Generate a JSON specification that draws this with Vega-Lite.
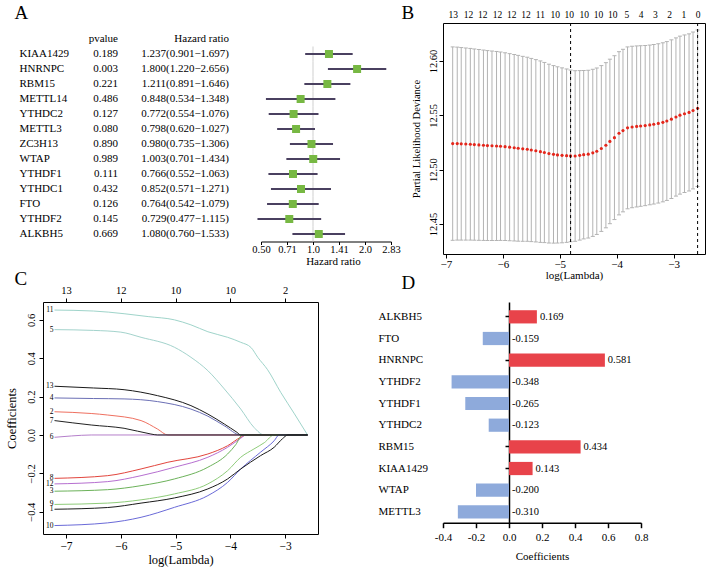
{
  "$schema": "https://vega.github.io/schema/vega-lite/v6.json",
  "background": "white",
  "padding": {"left": 4, "top": 2, "right": 2, "bottom": 2},
  "datasets": {
    "forest": [
      {"gene": "KIAA1429", "p": "0.189", "hrtxt": "1.237(0.901\u22121.697)", "hr": 1.237, "lo": 0.901, "hi": 1.697},
      {"gene": "HNRNPC", "p": "0.003", "hrtxt": "1.800(1.220\u22122.656)", "hr": 1.8, "lo": 1.22, "hi": 2.656},
      {"gene": "RBM15", "p": "0.221", "hrtxt": "1.211(0.891\u22121.646)", "hr": 1.211, "lo": 0.891, "hi": 1.646},
      {"gene": "METTL14", "p": "0.486", "hrtxt": "0.848(0.534\u22121.348)", "hr": 0.848, "lo": 0.534, "hi": 1.348},
      {"gene": "YTHDC2", "p": "0.127", "hrtxt": "0.772(0.554\u22121.076)", "hr": 0.772, "lo": 0.554, "hi": 1.076},
      {"gene": "METTL3", "p": "0.080", "hrtxt": "0.798(0.620\u22121.027)", "hr": 0.798, "lo": 0.62, "hi": 1.027},
      {"gene": "ZC3H13", "p": "0.890", "hrtxt": "0.980(0.735\u22121.306)", "hr": 0.98, "lo": 0.735, "hi": 1.306},
      {"gene": "WTAP", "p": "0.989", "hrtxt": "1.003(0.701\u22121.434)", "hr": 1.003, "lo": 0.701, "hi": 1.434},
      {"gene": "YTHDF1", "p": "0.111", "hrtxt": "0.766(0.552\u22121.063)", "hr": 0.766, "lo": 0.552, "hi": 1.063},
      {"gene": "YTHDC1", "p": "0.432", "hrtxt": "0.852(0.571\u22121.271)", "hr": 0.852, "lo": 0.571, "hi": 1.271},
      {"gene": "FTO", "p": "0.126", "hrtxt": "0.764(0.542\u22121.079)", "hr": 0.764, "lo": 0.542, "hi": 1.079},
      {"gene": "YTHDF2", "p": "0.145", "hrtxt": "0.729(0.477\u22121.115)", "hr": 0.729, "lo": 0.477, "hi": 1.115},
      {"gene": "ALKBH5", "p": "0.669", "hrtxt": "1.080(0.760\u22121.533)", "hr": 1.08, "lo": 0.76, "hi": 1.533}
    ],
    "cv": [
      {"lam": -6.88, "m": 12.524, "lo": 12.435, "hi": 12.613},
      {"lam": -6.8, "m": 12.524, "lo": 12.4352, "hi": 12.6128},
      {"lam": -6.73, "m": 12.5238, "lo": 12.4352, "hi": 12.6124},
      {"lam": -6.65, "m": 12.5236, "lo": 12.4352, "hi": 12.612},
      {"lam": -6.57, "m": 12.5234, "lo": 12.4352, "hi": 12.6116},
      {"lam": -6.5, "m": 12.5231, "lo": 12.4351, "hi": 12.6111},
      {"lam": -6.42, "m": 12.5228, "lo": 12.435, "hi": 12.6106},
      {"lam": -6.34, "m": 12.5225, "lo": 12.4349, "hi": 12.6101},
      {"lam": -6.27, "m": 12.5222, "lo": 12.4348, "hi": 12.6096},
      {"lam": -6.19, "m": 12.522, "lo": 12.4348, "hi": 12.6092},
      {"lam": -6.11, "m": 12.5218, "lo": 12.4348, "hi": 12.6088},
      {"lam": -6.04, "m": 12.5216, "lo": 12.4349, "hi": 12.6083},
      {"lam": -5.96, "m": 12.5212, "lo": 12.4348, "hi": 12.6076},
      {"lam": -5.88, "m": 12.5207, "lo": 12.4346, "hi": 12.6068},
      {"lam": -5.8, "m": 12.5202, "lo": 12.4344, "hi": 12.606},
      {"lam": -5.73, "m": 12.5197, "lo": 12.4342, "hi": 12.6052},
      {"lam": -5.65, "m": 12.5192, "lo": 12.4341, "hi": 12.6043},
      {"lam": -5.57, "m": 12.5188, "lo": 12.4341, "hi": 12.6035},
      {"lam": -5.5, "m": 12.5181, "lo": 12.4338, "hi": 12.6024},
      {"lam": -5.42, "m": 12.5174, "lo": 12.4335, "hi": 12.6013},
      {"lam": -5.34, "m": 12.5166, "lo": 12.4331, "hi": 12.6001},
      {"lam": -5.27, "m": 12.5158, "lo": 12.4329, "hi": 12.5987},
      {"lam": -5.19, "m": 12.5148, "lo": 12.4325, "hi": 12.5971},
      {"lam": -5.11, "m": 12.5141, "lo": 12.4324, "hi": 12.5958},
      {"lam": -5.04, "m": 12.5136, "lo": 12.4325, "hi": 12.5947},
      {"lam": -4.96, "m": 12.5132, "lo": 12.4327, "hi": 12.5937},
      {"lam": -4.88, "m": 12.5129, "lo": 12.4331, "hi": 12.5927},
      {"lam": -4.81, "m": 12.5127, "lo": 12.4337, "hi": 12.5917},
      {"lam": -4.73, "m": 12.5126, "lo": 12.4341, "hi": 12.5911},
      {"lam": -4.65, "m": 12.5132, "lo": 12.4352, "hi": 12.5912},
      {"lam": -4.58, "m": 12.5138, "lo": 12.4363, "hi": 12.5913},
      {"lam": -4.5, "m": 12.5143, "lo": 12.4371, "hi": 12.5915},
      {"lam": -4.42, "m": 12.5155, "lo": 12.4386, "hi": 12.5924},
      {"lam": -4.35, "m": 12.517, "lo": 12.4404, "hi": 12.5936},
      {"lam": -4.27, "m": 12.5195, "lo": 12.4432, "hi": 12.5958},
      {"lam": -4.19, "m": 12.5225, "lo": 12.4465, "hi": 12.5985},
      {"lam": -4.12, "m": 12.526, "lo": 12.4503, "hi": 12.6017},
      {"lam": -4.04, "m": 12.5295, "lo": 12.4541, "hi": 12.6049},
      {"lam": -3.96, "m": 12.5335, "lo": 12.4584, "hi": 12.6086},
      {"lam": -3.89, "m": 12.536, "lo": 12.4612, "hi": 12.6108},
      {"lam": -3.81, "m": 12.5385, "lo": 12.464, "hi": 12.613},
      {"lam": -3.73, "m": 12.5393, "lo": 12.465, "hi": 12.6136},
      {"lam": -3.65, "m": 12.5398, "lo": 12.4657, "hi": 12.6139},
      {"lam": -3.58, "m": 12.5402, "lo": 12.4663, "hi": 12.6141},
      {"lam": -3.5, "m": 12.5406, "lo": 12.4669, "hi": 12.6143},
      {"lam": -3.42, "m": 12.5412, "lo": 12.4677, "hi": 12.6147},
      {"lam": -3.35, "m": 12.5418, "lo": 12.4684, "hi": 12.6152},
      {"lam": -3.27, "m": 12.5426, "lo": 12.4693, "hi": 12.6159},
      {"lam": -3.19, "m": 12.5436, "lo": 12.4704, "hi": 12.6168},
      {"lam": -3.12, "m": 12.5448, "lo": 12.4717, "hi": 12.6179},
      {"lam": -3.04, "m": 12.5465, "lo": 12.4735, "hi": 12.6195},
      {"lam": -2.96, "m": 12.5485, "lo": 12.4757, "hi": 12.6213},
      {"lam": -2.89, "m": 12.5502, "lo": 12.4775, "hi": 12.6229},
      {"lam": -2.81, "m": 12.5515, "lo": 12.479, "hi": 12.624},
      {"lam": -2.73, "m": 12.5527, "lo": 12.4804, "hi": 12.625},
      {"lam": -2.66, "m": 12.5545, "lo": 12.4823, "hi": 12.6267},
      {"lam": -2.58, "m": 12.5565, "lo": 12.4845, "hi": 12.6285}
    ],
    "cvsel": [{"lam": -4.81}, {"lam": -2.58}],
    "paths": [
      {"v": "11", "lam": -7.21, "coef": 0.651}, {"v": "11", "lam": -6.5, "coef": 0.646}, {"v": "11", "lam": -5.94, "coef": 0.632}, {"v": "11", "lam": -5.5, "coef": 0.617}, {"v": "11", "lam": -5.02, "coef": 0.6}, {"v": "11", "lam": -4.72, "coef": 0.574}, {"v": "11", "lam": -4.41, "coef": 0.538}, {"v": "11", "lam": -4.05, "coef": 0.509}, {"v": "11", "lam": -3.81, "coef": 0.483}, {"v": "11", "lam": -3.62, "coef": 0.455}, {"v": "11", "lam": -3.5, "coef": 0.405}, {"v": "11", "lam": -3.32, "coef": 0.34}, {"v": "11", "lam": -3.08, "coef": 0.222}, {"v": "11", "lam": -2.83, "coef": 0.11}, {"v": "11", "lam": -2.59, "coef": 0},
      {"v": "5", "lam": -7.21, "coef": 0.549}, {"v": "5", "lam": -6.5, "coef": 0.545}, {"v": "5", "lam": -6.0, "coef": 0.536}, {"v": "5", "lam": -5.63, "coef": 0.509}, {"v": "5", "lam": -5.02, "coef": 0.457}, {"v": "5", "lam": -4.72, "coef": 0.405}, {"v": "5", "lam": -4.41, "coef": 0.335}, {"v": "5", "lam": -4.11, "coef": 0.24}, {"v": "5", "lam": -3.81, "coef": 0.135}, {"v": "5", "lam": -3.57, "coef": 0.04}, {"v": "5", "lam": -3.38, "coef": 0}, {"v": "5", "lam": -2.59, "coef": 0},
      {"v": "2", "lam": -7.21, "coef": 0.121}, {"v": "2", "lam": -6.54, "coef": 0.112}, {"v": "2", "lam": -6.24, "coef": 0.104}, {"v": "2", "lam": -5.63, "coef": 0.075}, {"v": "2", "lam": -5.33, "coef": 0.031}, {"v": "2", "lam": -5.14, "coef": 0}, {"v": "2", "lam": -2.59, "coef": 0},
      {"v": "6", "lam": -7.21, "coef": -0.012}, {"v": "6", "lam": -6.9, "coef": -0.005}, {"v": "6", "lam": -6.54, "coef": 0}, {"v": "6", "lam": -2.59, "coef": 0},
      {"v": "4", "lam": -7.21, "coef": 0.193}, {"v": "4", "lam": -6.5, "coef": 0.19}, {"v": "4", "lam": -5.94, "coef": 0.188}, {"v": "4", "lam": -5.33, "coef": 0.174}, {"v": "4", "lam": -4.72, "coef": 0.135}, {"v": "4", "lam": -4.41, "coef": 0.098}, {"v": "4", "lam": -4.11, "coef": 0.048}, {"v": "4", "lam": -3.81, "coef": 0}, {"v": "4", "lam": -2.59, "coef": 0},
      {"v": "8", "lam": -7.21, "coef": -0.226}, {"v": "8", "lam": -6.24, "coef": -0.212}, {"v": "8", "lam": -5.63, "coef": -0.177}, {"v": "8", "lam": -5.14, "coef": -0.142}, {"v": "8", "lam": -4.41, "coef": -0.099}, {"v": "8", "lam": -4.05, "coef": -0.056}, {"v": "8", "lam": -3.81, "coef": -0.012}, {"v": "8", "lam": -3.7, "coef": 0}, {"v": "8", "lam": -2.59, "coef": 0},
      {"v": "12", "lam": -7.21, "coef": -0.255}, {"v": "12", "lam": -6.24, "coef": -0.243}, {"v": "12", "lam": -5.63, "coef": -0.212}, {"v": "12", "lam": -5.02, "coef": -0.168}, {"v": "12", "lam": -4.41, "coef": -0.116}, {"v": "12", "lam": -4.05, "coef": -0.064}, {"v": "12", "lam": -3.81, "coef": -0.017}, {"v": "12", "lam": -3.72, "coef": 0}, {"v": "12", "lam": -2.59, "coef": 0},
      {"v": "3", "lam": -7.21, "coef": -0.293}, {"v": "3", "lam": -6.24, "coef": -0.285}, {"v": "3", "lam": -5.63, "coef": -0.264}, {"v": "3", "lam": -5.02, "coef": -0.229}, {"v": "3", "lam": -4.41, "coef": -0.168}, {"v": "3", "lam": -4.05, "coef": -0.099}, {"v": "3", "lam": -3.9, "coef": -0.05}, {"v": "3", "lam": -3.78, "coef": 0}, {"v": "3", "lam": -2.59, "coef": 0},
      {"v": "9", "lam": -7.21, "coef": -0.362}, {"v": "9", "lam": -6.24, "coef": -0.355}, {"v": "9", "lam": -5.63, "coef": -0.338}, {"v": "9", "lam": -5.02, "coef": -0.307}, {"v": "9", "lam": -4.41, "coef": -0.255}, {"v": "9", "lam": -4.05, "coef": -0.186}, {"v": "9", "lam": -3.81, "coef": -0.116}, {"v": "9", "lam": -3.57, "coef": -0.073}, {"v": "9", "lam": -3.38, "coef": -0.04}, {"v": "9", "lam": -3.2, "coef": 0}, {"v": "9", "lam": -2.59, "coef": 0},
      {"v": "10", "lam": -7.21, "coef": -0.472}, {"v": "10", "lam": -6.24, "coef": -0.458}, {"v": "10", "lam": -5.63, "coef": -0.429}, {"v": "10", "lam": -5.02, "coef": -0.377}, {"v": "10", "lam": -4.41, "coef": -0.316}, {"v": "10", "lam": -4.05, "coef": -0.247}, {"v": "10", "lam": -3.81, "coef": -0.177}, {"v": "10", "lam": -3.45, "coef": -0.09}, {"v": "10", "lam": -3.2, "coef": -0.03}, {"v": "10", "lam": -3.11, "coef": 0}, {"v": "10", "lam": -2.59, "coef": 0},
      {"v": "1", "lam": -7.21, "coef": -0.387}, {"v": "1", "lam": -6.24, "coef": -0.378}, {"v": "1", "lam": -5.63, "coef": -0.355}, {"v": "1", "lam": -5.02, "coef": -0.328}, {"v": "1", "lam": -4.41, "coef": -0.281}, {"v": "1", "lam": -4.05, "coef": -0.229}, {"v": "1", "lam": -3.81, "coef": -0.177}, {"v": "1", "lam": -3.45, "coef": -0.108}, {"v": "1", "lam": -3.2, "coef": -0.064}, {"v": "1", "lam": -3.05, "coef": -0.02}, {"v": "1", "lam": -2.95, "coef": 0}, {"v": "1", "lam": -2.59, "coef": 0},
      {"v": "13", "lam": -7.21, "coef": 0.254}, {"v": "13", "lam": -6.5, "coef": 0.245}, {"v": "13", "lam": -5.94, "coef": 0.236}, {"v": "13", "lam": -5.33, "coef": 0.205}, {"v": "13", "lam": -4.72, "coef": 0.153}, {"v": "13", "lam": -4.41, "coef": 0.109}, {"v": "13", "lam": -4.11, "coef": 0.057}, {"v": "13", "lam": -3.88, "coef": 0.014}, {"v": "13", "lam": -3.81, "coef": 0}, {"v": "13", "lam": -2.59, "coef": 0},
      {"v": "7", "lam": -7.21, "coef": 0.075}, {"v": "7", "lam": -6.54, "coef": 0.052}, {"v": "7", "lam": -5.94, "coef": 0.035}, {"v": "7", "lam": -5.45, "coef": 0.005}, {"v": "7", "lam": -5.33, "coef": 0}, {"v": "7", "lam": -2.59, "coef": 0}
    ],
    "coefs": [
      {"gene": "ALKBH5", "coef": 0.169, "lab": "0.169"},
      {"gene": "FTO", "coef": -0.159, "lab": "-0.159"},
      {"gene": "HNRNPC", "coef": 0.581, "lab": "0.581"},
      {"gene": "YTHDF2", "coef": -0.348, "lab": "-0.348"},
      {"gene": "YTHDF1", "coef": -0.265, "lab": "-0.265"},
      {"gene": "YTHDC2", "coef": -0.123, "lab": "-0.123"},
      {"gene": "RBM15", "coef": 0.434, "lab": "0.434"},
      {"gene": "KIAA1429", "coef": 0.143, "lab": "0.143"},
      {"gene": "WTAP", "coef": -0.2, "lab": "-0.200"},
      {"gene": "METTL3", "coef": -0.31, "lab": "-0.310"}
    ]
  },
  "columns": 2,
  "spacing": {"row": 48, "column": 52},
  "align": "each",
  "bounds": "flush",
  "concat": [
    {
      "width": 348, "height": 218.5,
      "resolve": {"scale": {"x": "independent"}},
      "layer": [
        {
          "layer": [
            {
              "data": {"name": "forest"},
              "mark": {"type": "text", "align": "right", "baseline": "middle", "fontSize": 11, "color": "#000"},
              "encoding": {
                "y": {"field": "gene", "type": "nominal", "sort": null,
                  "scale": {"type": "band", "domain": [" ", "KIAA1429", "HNRNPC", "RBM15", "METTL14", "YTHDC2", "METTL3", "ZC3H13", "WTAP", "YTHDF1", "YTHDC1", "FTO", "YTHDF2", "ALKBH5"], "paddingInner": 0, "paddingOuter": 0.2833, "align": 1},
                  "axis": {"orient": "left", "title": "A", "titleAngle": 0, "titleX": -29, "titleY": -5, "titleAlign": "left", "titleBaseline": "alphabetic", "titleFontSize": 19, "ticks": false, "tickSize": 0, "domain": false, "labelAlign": "left", "labelBaseline": "middle", "labelPadding": 24, "labelFontSize": 11}},
                "x": {"datum": "pvalue", "type": "nominal", "scale": {"type": "point", "domain": ["pvalue", "hr"], "range": [75, 186], "padding": 0}, "axis": null},
                "text": {"field": "p"}
              }
            },
            {
              "data": {"name": "forest"},
              "mark": {"type": "text", "align": "right", "baseline": "middle", "fontSize": 11, "color": "#000"},
              "encoding": {
                "y": {"field": "gene", "type": "nominal", "sort": null},
                "x": {"datum": "hr", "type": "nominal", "axis": null},
                "text": {"field": "hrtxt"}
              }
            },
            {
              "data": {"values": [{"col": "pvalue", "label": "pvalue"}, {"col": "hr", "label": "Hazard ratio"}]},
              "mark": {"type": "text", "align": "right", "baseline": "middle", "fontSize": 11, "color": "#000"},
              "encoding": {
                "y": {"datum": " ", "type": "nominal"},
                "x": {"field": "col", "type": "nominal", "axis": null},
                "text": {"field": "label"}
              }
            }
          ]
        },
        {
          "data": {"name": "forest"},
          "layer": [
            {
              "mark": {"type": "tick", "orient": "vertical", "size": 15, "thickness": 1, "color": "#cfcfcf", "opacity": 1},
              "encoding": {
                "y": {"field": "gene", "type": "nominal", "sort": null},
                "x": {"datum": 1, "type": "quantitative",
                  "scale": {"type": "log", "base": 2, "domain": [0.5, 2.8284], "range": [218, 348], "nice": false},
                  "axis": {"values": [0.5, 0.7071, 1, 1.4142, 2, 2.8284],
                    "labelExpr": "datum.value < 0.6 ? '0.50' : datum.value < 0.8 ? '0.71' : datum.value < 1.2 ? '1.0' : datum.value < 1.7 ? '1.41' : datum.value < 2.4 ? '2.0' : '2.83'",
                    "title": "Hazard ratio", "titleX": 290, "tickSize": 3, "labelPadding": 0, "titlePadding": 0, "labelFontSize": 10.5, "titleFontSize": 11, "domain": true, "labelFlush": false, "labelOverlap": false}}
              }
            },
            {
              "mark": {"type": "rule", "strokeWidth": 2, "color": "#4a4060"},
              "encoding": {"y": {"field": "gene", "type": "nominal", "sort": null}, "x": {"field": "lo", "type": "quantitative"}, "x2": {"field": "hi"}}
            },
            {
              "mark": {"type": "point", "shape": "square", "filled": true, "size": 64, "color": "#77b843", "opacity": 1},
              "encoding": {"y": {"field": "gene", "type": "nominal", "sort": null}, "x": {"field": "hr", "type": "quantitative"}}
            }
          ]
        }
      ]
    },
    {
      "width": 262, "height": 231,
      "view": {"stroke": "#000", "strokeWidth": 1},
      "data": {"name": "cv"},
      "resolve": {"axis": {"x": "independent"}},
      "layer": [
        {
          "mark": {"type": "rule", "color": "#b3b3b3", "strokeWidth": 1},
          "encoding": {
            "x": {"field": "lam", "type": "quantitative", "scale": {"domain": [-7.05, -2.45], "nice": false, "zero": false},
              "axis": {"orient": "bottom", "values": [-7, -6, -5, -4, -3], "title": "log(Lambda)", "tickSize": 4, "labelPadding": 0, "titlePadding": 0, "domain": false, "labelFontSize": 11, "titleFontSize": 11, "labelFlush": false}},
            "y": {"field": "lo", "type": "quantitative", "title": "Partial Likelihood Deviance", "scale": {"domain": [12.4224, 12.635], "nice": false, "zero": false},
              "axis": {"values": [12.45, 12.5, 12.55, 12.6], "format": ".2f", "labelAngle": 270, "labelAlign": "center", "labelBaseline": "bottom", "tickSize": 4, "labelPadding": 1, "titlePadding": 7, "domain": false, "labelFontSize": 10.5, "titleFontSize": 10.5}},
            "y2": {"field": "hi"}
          }
        },
        {
          "mark": {"type": "tick", "orient": "horizontal", "size": 4, "thickness": 1, "color": "#b3b3b3", "opacity": 1},
          "encoding": {"x": {"field": "lam", "type": "quantitative", "axis": null}, "y": {"field": "lo", "type": "quantitative", "title": "Partial Likelihood Deviance"}}
        },
        {
          "mark": {"type": "tick", "orient": "horizontal", "size": 4, "thickness": 1, "color": "#b3b3b3", "opacity": 1},
          "encoding": {"x": {"field": "lam", "type": "quantitative", "axis": null}, "y": {"field": "hi", "type": "quantitative", "title": "Partial Likelihood Deviance"}}
        },
        {
          "mark": {"type": "circle", "size": 10, "color": "#e3261b", "opacity": 1},
          "encoding": {
            "x": {"field": "lam", "type": "quantitative",
              "axis": {"orient": "top", "values": [-6.88, -6.61, -6.36, -6.1, -5.85, -5.6, -5.35, -5.09, -4.84, -4.58, -4.33, -4.08, -3.83, -3.58, -3.33, -3.08, -2.83, -2.58],
                "labelExpr": "['13','12','12','12','12','12','11','10','10','10','10','10','5','4','3','2','1','0'][indexof([-6.88, -6.61, -6.36, -6.1, -5.85, -5.6, -5.35, -5.09, -4.84, -4.58, -4.33, -4.08, -3.83, -3.58, -3.33, -3.08, -2.83, -2.58], datum.value)]",
                "ticks": false, "tickSize": 0, "domain": false, "labelPadding": 4, "labelFontSize": 9.5, "labelFlush": false, "labelOverlap": false,
                "title": "B", "titleAngle": 0, "titleX": -42, "titleY": -5, "titleAlign": "left", "titleBaseline": "alphabetic", "titleFontSize": 19}},
            "y": {"field": "m", "type": "quantitative", "title": "Partial Likelihood Deviance"}
          }
        },
        {
          "data": {"name": "cvsel"},
          "mark": {"type": "rule", "strokeDash": [3, 3], "color": "#000", "strokeWidth": 1},
          "encoding": {"x": {"field": "lam", "type": "quantitative", "axis": null}}
        }
      ]
    },
    {
      "width": 275, "height": 232,
      "view": {"stroke": "#000", "strokeWidth": 1},
      "data": {"name": "paths"},
      "resolve": {"axis": {"x": "independent"}},
      "layer": [
        {
          "mark": {"type": "line", "strokeWidth": 1, "interpolate": "monotone"},
          "encoding": {
            "x": {"field": "lam", "type": "quantitative", "scale": {"domain": [-7.42, -2.4], "nice": false, "zero": false},
              "axis": {"orient": "bottom", "values": [-7, -6, -5, -4, -3], "title": "log(Lambda)", "tickSize": 4, "labelPadding": 2, "titlePadding": 2, "domain": false, "labelFontSize": 11.5, "titleFontSize": 12.5, "labelFlush": false}},
            "y": {"field": "coef", "type": "quantitative", "title": "Coefficients", "scale": {"domain": [-0.516, 0.693], "nice": false, "zero": false},
              "axis": {"values": [-0.4, -0.2, 0, 0.2, 0.4, 0.6], "format": ".1f", "labelAngle": 270, "labelAlign": "center", "labelBaseline": "bottom", "tickSize": 4, "labelPadding": 3, "titlePadding": 8, "domain": false, "labelFontSize": 10.5, "titleFontSize": 12.5}},
            "color": {"field": "v", "type": "nominal", "legend": null,
              "scale": {"domain": ["11", "5", "2", "6", "4", "8", "12", "3", "9", "10", "1", "13", "7"],
                "range": ["#9fd4ca", "#a3d3cc", "#ef7060", "#b57fcb", "#6b6fb5", "#e2453d", "#b66fd0", "#6cb25a", "#8fcc7a", "#6a6ad8", "#1a1a1a", "#1a1a1a", "#222222"]}}
          }
        },
        {
          "transform": [{"filter": "datum.lam == -7.21"}],
          "mark": {"type": "text", "align": "right", "baseline": "middle", "dx": -1, "fontSize": 7.5, "color": "#000"},
          "encoding": {
            "x": {"field": "lam", "type": "quantitative",
              "axis": {"orient": "top", "values": [-7, -6, -5, -4, -3], "labelExpr": "['13','12','10','10','2'][indexof([-7, -6, -5, -4, -3], datum.value)]", "tickSize": 4, "labelPadding": 3, "domain": false, "labelFontSize": 10.5, "labelFlush": false,
                "title": "C", "titleAngle": 0, "titleX": -29, "titleY": -18, "titleAlign": "left", "titleBaseline": "alphabetic", "titleFontSize": 19}},
            "y": {"field": "coef", "type": "quantitative", "title": "Coefficients"},
            "text": {"field": "v"}
          }
        }
      ]
    },
    {
      "width": 198, "height": 220.7,
      "data": {"name": "coefs"},
      "resolve": {"axis": {"y": "independent"}},
      "encoding": {
        "x": {"field": "coef", "type": "quantitative", "title": "Coefficients", "scale": {"domain": [-0.4, 0.8], "nice": false, "zero": false},
          "axis": {"values": [-0.4, -0.2, 0, 0.2, 0.4, 0.6, 0.8], "labelExpr": "replace(format(datum.value, '.1f'), '\u2212', '-')", "tickSize": 5, "labelPadding": 3.5, "titlePadding": 8, "domain": true, "domainWidth": 1.5, "tickWidth": 1.5, "labelFontSize": 11, "titleFontSize": 11, "labelFlush": false, "labelOverlap": false}}
      },
      "layer": [
        {
          "mark": {"type": "bar"},
          "encoding": {
            "y": {"field": "gene", "type": "nominal", "sort": null,
              "scale": {"type": "band", "domain": ["ALKBH5", "FTO", "HNRNPC", "YTHDF2", "YTHDF1", "YTHDC2", "RBM15", "KIAA1429", "WTAP", "METTL3"], "paddingInner": 0.39, "paddingOuter": 0.2875, "align": 0.66},
              "axis": {"orient": "left", "title": "D", "titleAngle": 0, "titleX": -42, "titleY": -14, "titleAlign": "left", "titleBaseline": "alphabetic", "titleFontSize": 19, "ticks": false, "tickSize": 0, "domain": false, "labelAlign": "left", "labelPadding": 65, "labelFontSize": 11}},
            "color": {"condition": {"test": "datum.coef > 0", "value": "#e8434a"}, "value": "#8eaadb"}
          }
        },
        {
          "transform": [{"filter": "datum.coef > 0"}],
          "mark": {"type": "text", "align": "left", "baseline": "middle", "dx": 3, "fontSize": 10.5, "color": "#000"},
          "encoding": {
            "y": {"field": "gene", "type": "nominal", "sort": null,
              "axis": {"orient": "left", "offset": -66, "title": null, "labels": false, "ticks": true, "tickSize": 4, "tickWidth": 1.5, "domain": true, "domainWidth": 1.5}},
            "text": {"field": "lab"}
          }
        },
        {
          "transform": [{"filter": "datum.coef < 0"}],
          "mark": {"type": "text", "align": "left", "baseline": "middle", "dx": 3, "fontSize": 10.5, "color": "#000"},
          "encoding": {
            "y": {"field": "gene", "type": "nominal", "sort": null, "axis": null},
            "x": {"datum": 0, "type": "quantitative", "title": "Coefficients",
              "axis": {"values": [-0.4, -0.2, 0, 0.2, 0.4, 0.6, 0.8], "labelExpr": "replace(format(datum.value, '.1f'), '\u2212', '-')", "tickSize": 5, "labelPadding": 3.5, "titlePadding": 8, "domain": true, "domainWidth": 1.5, "tickWidth": 1.5, "labelFontSize": 11, "titleFontSize": 11, "labelFlush": false, "labelOverlap": false}},
            "text": {"field": "lab"}
          }
        }
      ]
    }
  ],
  "config": {
    "font": "Liberation Serif",
    "view": {"stroke": null},
    "text": {"font": "Liberation Serif"},
    "axis": {"labelFont": "Liberation Serif", "titleFont": "Liberation Serif", "titleFontWeight": "normal", "labelColor": "#000", "titleColor": "#000", "domainColor": "#000", "tickColor": "#000", "grid": false}
  }
}
